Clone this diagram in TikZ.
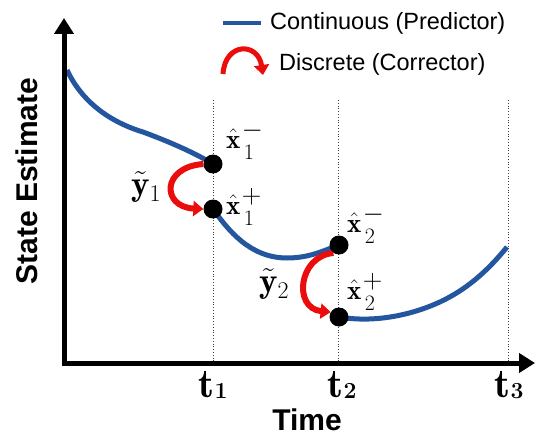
\RequirePackage{fix-cm}
\documentclass[tikz,border=0pt]{standalone}
\usepackage{fontspec}
\newfontfamily\arialf{Liberation Sans}
\usetikzlibrary{arrows.meta}
% x-hat with explicit sub/superscript sizes: #1 subscript, #2 superscript
\newcommand\xhatlab[2]{$\hat{\mathbf{x}}$\kern1.5pt\rlap{\raisebox{11pt}{\fontsize{27}{27}\selectfont$#2$}}\raisebox{-11pt}{\kern2pt\fontsize{22}{22}\selectfont #1}}
\newcommand\ytildelab[1]{$\tilde{\mathbf{y}}$\raisebox{-6pt}{\fontsize{24}{24}\selectfont #1}}
\newcommand\tlab[1]{$\mathbf{t}$\raisebox{-1pt}{\fontsize{23}{23}\selectfont\bfseries #1}}
\definecolor{curveblue}{RGB}{36,86,160}
\definecolor{jumpred}{RGB}{235,12,12}
\pgfdeclarelayer{background}
\pgfsetlayers{background,main}
\tikzset{
  axis/.style={line width=5pt, black},
  curve/.style={line width=5pt, curveblue},
  jump/.style={line width=6pt, jumpred, -{Triangle[length=10pt,width=15pt]}},
  guide/.style={dotted, line width=0.8pt, black!75},
  dot/.style={circle, fill=black, minimum size=19pt, inner sep=0pt},
  mlabel/.style={font=\fontsize{27}{27}\selectfont, inner sep=0pt, anchor=base west},
  ylabelstyle/.style={font=\fontsize{35}{35}\selectfont, inner sep=0pt, anchor=base west},
  tlabel/.style={font=\fontsize{41}{41}\selectfont, inner sep=0pt, anchor=base},
  axlabel/.style={font=\arialf\bfseries\fontsize{30}{30}\selectfont, inner sep=0pt},
  legtext/.style={font=\arialf\fontsize{23.5}{23.5}\selectfont, inner sep=0pt, anchor=west}
}
\begin{document}
\begin{tikzpicture}[x=1pt,y=-1pt]
\useasboundingbox (0,0) rectangle (535,436);
% axes
\coordinate (o) at (64,363);
\coordinate (ytip) at (64,18);
\coordinate (xtip) at (535,363);
\draw[axis, {Triangle[length=16pt,width=19pt]}-{Triangle[length=16pt,width=19pt]}, line join=miter] (ytip) -- (o) -- (xtip);
% guides
\coordinate (g1a) at (213,100); \coordinate (g1b) at (213,363);
\coordinate (g2a) at (338,100); \coordinate (g2b) at (338,363);
\coordinate (g3a) at (508,100); \coordinate (g3b) at (508,363);
\draw[guide] (g1a) -- (g1b);
\draw[guide] (g2a) -- (g2b);
\draw[guide] (g3a) -- (g3b);
% dots
\node[dot] (x1m) at (213,164) {};
\node[dot] (x1p) at (213,209) {};
\node[dot] (x2m) at (339,245) {};
\node[dot] (x2p) at (339,317) {};
% curves and jumps
\coordinate (s1) at (67,70);
\coordinate (m1) at (143,132);
\coordinate (m2) at (287,258);
\coordinate (m3) at (444,300);
\coordinate (e3) at (507,247);
\begin{pgfonlayer}{background}
\draw[curve] (s1) .. controls (82,102) and (110,122) .. (m1)
  .. controls (170,142) and (195,153) .. (x1m.center);
\draw[curve] (x1p.center) .. controls (228,230) and (250,258) .. (m2)
  .. controls (310,258) and (325,250) .. (x2m.center);
\draw[curve] (x2p.center) .. controls (380,324) and (420,312) .. (m3)
  .. controls (470,287) and (490,268) .. (e3);
\draw[jump] (x1m.west) .. controls +(-42,3) and +(-42,-2) .. (x1p.180);
\draw[jump] (x2m.235) .. controls +(-35,3) and +(-38,-4) .. (x2p.150);
\end{pgfonlayer}
% labels
\node[mlabel] (l1m) at (226,148) {\xhatlab{1}{-}};
\node[mlabel] (l1p) at (226,214) {\xhatlab{1}{+}};
\node[mlabel] (l2m) at (347,232) {\xhatlab{2}{-}};
\node[mlabel] (l2p) at (347,299) {\xhatlab{2}{+}};
\node[ylabelstyle] (ly1) at (131,195) {\ytildelab{1}};
\node[ylabelstyle] (ly2) at (259,292) {\ytildelab{2}};
\node[tlabel] (t1) at (213,397) {\tlab{1}};
\node[tlabel] (t2) at (342,397) {\tlab{2}};
\node[tlabel] (t3) at (509,397) {\tlab{3}};
\node[axlabel] (xlab) at (307,420) {Time};
\node[axlabel, rotate=90] (ylab) at (27,181) {State Estimate};
% legend
\coordinate (lc1) at (223,23);
\coordinate (lc2) at (261,23);
\draw[curve, line width=4.5pt] (lc1) -- (lc2);
\node[legtext] (leg1) at (270,23) {Continuous (Predictor)};
\coordinate (la) at (223,74);
\coordinate (lb) at (263,75);
\draw[jump, line width=5pt] (la) .. controls (225,42) and (258,42) .. (lb);
\node[legtext] (leg2) at (279,64) {Discrete (Corrector)};
\end{tikzpicture}
\end{document}
